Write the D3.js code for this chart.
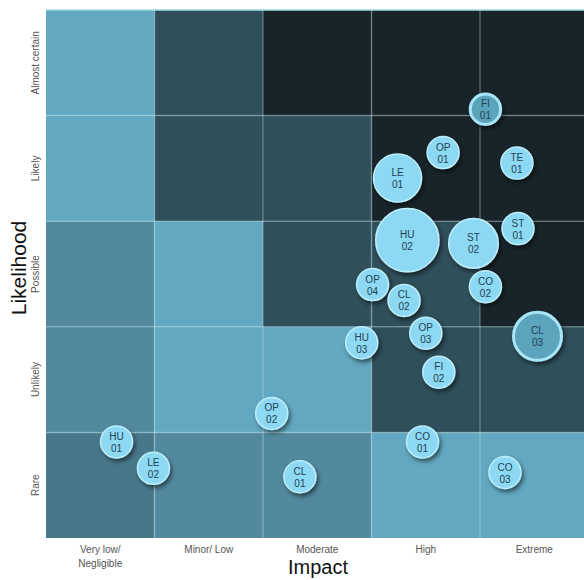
<!DOCTYPE html>
<html>
<head>
<meta charset="utf-8">
<script src="https://cdn.jsdelivr.net/npm/d3@7.9.0/dist/d3.min.js"></script>
<style>
  body { margin: 0; background: #fff; }
  svg { display: block; font-family: "Liberation Sans", Arial, sans-serif; }
</style>
</head>
<body>
<svg id="chart" width="584" height="580"></svg>
<script>
const impactLabels = ['Very low/\nNegligible', 'Minor/ Low', 'Moderate', 'High', 'Extreme'];
const likelihoodLabels = ['Rare', 'Unlikely', 'Possible', 'Likely', 'Almost certain'];

// risk level per cell, rows from Rare (0) up to Almost certain (4)
const cellLevels = [
  [1, 2, 2, 3, 3],
  [2, 3, 3, 4, 4],
  [2, 3, 4, 4, 5],
  [3, 4, 4, 5, 5],
  [3, 4, 5, 5, 5]
];

const riskIds   = ['FI\n01', 'OP\n01', 'TE\n01', 'LE\n01', 'HU\n02', 'ST\n02', 'ST\n01', 'OP\n04', 'CL\n02', 'CO\n02',
                   'OP\n03', 'HU\n03', 'CL\n03', 'FI\n02', 'CO\n01', 'CO\n03', 'CL\n01', 'OP\n02', 'HU\n01', 'LE\n02'];
const riskImpact = [4.05, 3.66, 4.34, 3.24, 3.33, 3.94, 4.35, 3.01, 3.30, 4.05,
                    3.50, 2.91, 4.53, 3.62, 3.47, 4.23, 2.34, 2.08, 0.65, 0.99];
const riskLikelihood = [4.06, 3.65, 3.55, 3.41, 2.82, 2.79, 2.93, 2.40, 2.25, 2.38,
                        1.94, 1.85, 1.91, 1.57, 0.91, 0.62, 0.58, 1.18, 0.91, 0.66];
const riskSize = [0.9, 1, 1, 2.25, 3.9, 2.4, 1, 1, 1, 1,
                  1, 1, 2.25, 1, 1, 1, 1, 1, 1, 1];
const highlighted = ['FI\n01', 'CL\n03'];

const levelColors = ['#46788a', '#52899e', '#62a8c0', '#2f4f5a', '#18242a'];

const svg = d3.select('#chart');
const plotLeft = 46, plotTop = 10, cellW = 108.5, cellH = 105.6;

const x = d3.scaleLinear().domain([0, 5]).range([plotLeft, plotLeft + 5 * cellW]);
const y = d3.scaleLinear().domain([0, 5]).range([plotTop + 5 * cellH, plotTop]);
const r = d3.scaleSqrt().domain([0, 4]).range([0, 32]);

const defs = svg.append('defs');
const shadow = defs.append('filter').attr('id', 'shadow')
  .attr('x', '-30%').attr('y', '-30%').attr('width', '170%').attr('height', '170%');
shadow.append('feDropShadow')
  .attr('dx', 2).attr('dy', 3).attr('stdDeviation', 2)
  .attr('flood-color', '#000').attr('flood-opacity', 0.5);

// cells
const cells = [];
cellLevels.forEach((row, ri) => row.forEach((lvl, ci) => cells.push({ ri, ci, lvl })));

svg.append('g').selectAll('rect').data(cells).join('rect')
  .attr('x', d => x(d.ci))
  .attr('y', d => y(d.ri + 1))
  .attr('width', x(1) - x(0))
  .attr('height', y(0) - y(1))
  .attr('fill', d => levelColors[d.lvl - 1]);

// grid lines
const grid = svg.append('g').attr('stroke', '#cdeef8').attr('stroke-opacity', 0.3).attr('stroke-width', 1.5);
d3.range(1, 5).forEach(i => {
  grid.append('line').attr('x1', x(i)).attr('x2', x(i)).attr('y1', y(0)).attr('y2', y(5));
  grid.append('line').attr('x1', x(0)).attr('x2', x(5)).attr('y1', y(i)).attr('y2', y(i));
});
svg.append('line').attr('x1', x(0)).attr('x2', x(5)).attr('y1', y(5)).attr('y2', y(5))
  .attr('stroke', '#9fdcea').attr('stroke-width', 1.5);

// y tick labels
svg.append('g').selectAll('text').data(likelihoodLabels).join('text')
  .attr('transform', (d, i) => `translate(39,${y(i + 0.5)}) rotate(-90)`)
  .attr('text-anchor', 'middle')
  .attr('font-size', 10)
  .attr('fill', '#555')
  .text(d => d);

// x tick labels
svg.append('g').selectAll('text').data(impactLabels).join('text')
  .attr('x', (d, i) => x(i + 0.5))
  .attr('y', 553)
  .attr('text-anchor', 'middle')
  .attr('font-size', 10)
  .attr('fill', '#555')
  .each(function (d) {
    const t = d3.select(this);
    d.split('\n').forEach((line, k) => {
      t.append('tspan')
        .attr('x', t.attr('x'))
        .attr('dy', k === 0 ? 0 : 14)
        .text(line);
    });
  });

// axis titles
svg.append('text')
  .attr('transform', `translate(26,${y(2.5) - 6}) rotate(-90)`)
  .attr('text-anchor', 'middle')
  .attr('font-size', 21)
  .attr('fill', '#111')
  .text('Likelihood');

svg.append('text')
  .attr('x', 318).attr('y', 574)
  .attr('text-anchor', 'middle')
  .attr('font-size', 20)
  .attr('fill', '#111')
  .text('Impact');

// bubbles
const risks = riskIds.map((id, i) => ({
  id, impact: riskImpact[i], likelihood: riskLikelihood[i], size: riskSize[i],
  hi: highlighted.includes(id)
}));

const bubble = svg.append('g').selectAll('g').data(risks).join('g')
  .attr('transform', d => `translate(${x(d.impact)},${y(d.likelihood)})`);

bubble.append('circle')
  .attr('r', d => r(d.size))
  .attr('fill', d => d.hi ? '#5ba4bc' : '#8dd8f3')
  .attr('stroke', d => d.hi ? '#a8e6f7' : '#bdeefb')
  .attr('stroke-width', d => d.hi ? 3 : 1.5)
  .attr('filter', 'url(#shadow)');

bubble.append('text')
  .attr('text-anchor', 'middle')
  .attr('font-size', 10)
  .attr('fill', '#1f4252')
  .each(function (d) {
    const t = d3.select(this);
    d.id.split('\n').forEach((line, k) => {
      t.append('tspan')
        .attr('x', 0)
        .attr('y', k === 0 ? -2 : 10)
        .text(line);
    });
  });
</script>
</body>
</html>
